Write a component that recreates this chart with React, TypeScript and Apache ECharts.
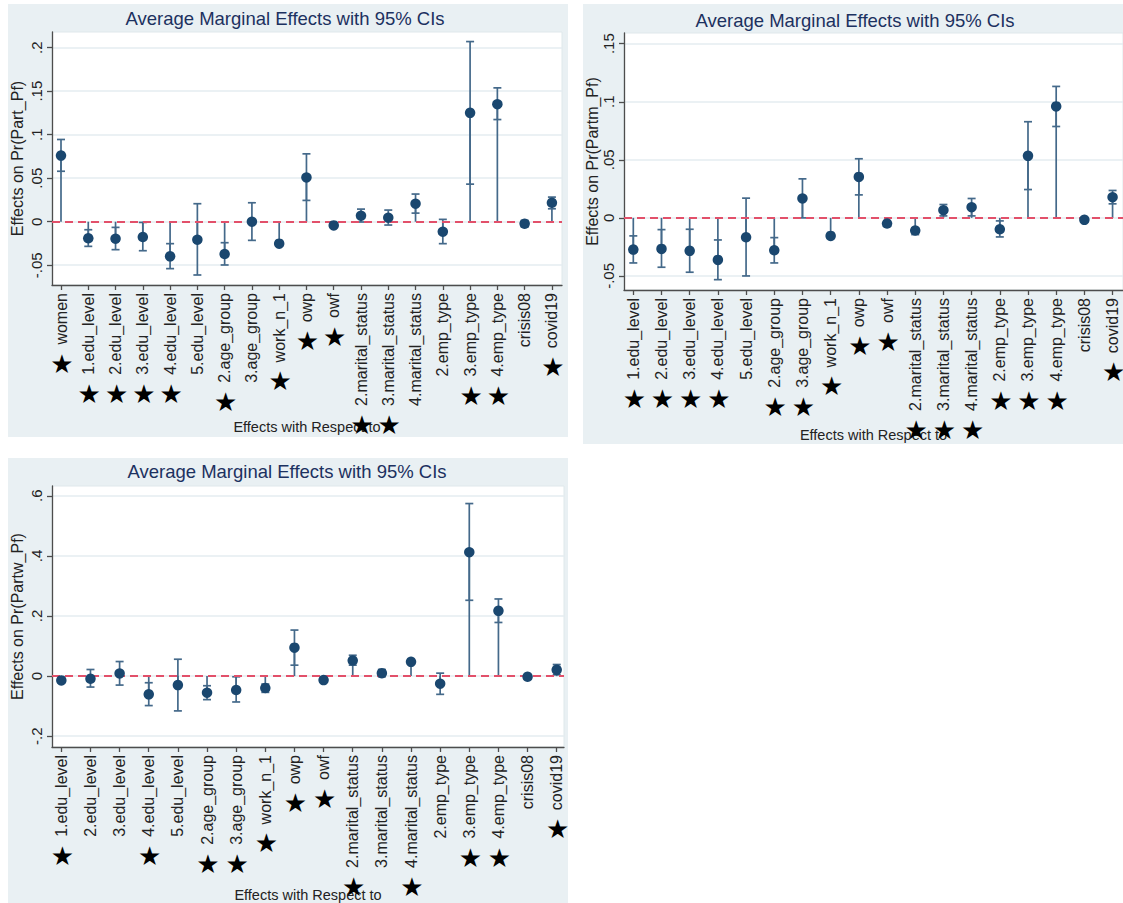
import React, { useEffect, useRef } from "react";
import * as echarts from "echarts";

// ---------- data ----------
const categories1 = ["women", "1.edu_level", "2.edu_level", "3.edu_level", "4.edu_level", "5.edu_level", "2.age_group", "3.age_group", "work_n_1", "owp", "owf", "2.marital_status", "3.marital_status", "4.marital_status", "2.emp_type", "3.emp_type", "4.emp_type", "crisis08", "covid19"];
const categories23 = ["1.edu_level", "2.edu_level", "3.edu_level", "4.edu_level", "5.edu_level", "2.age_group", "3.age_group", "work_n_1", "owp", "owf", "2.marital_status", "3.marital_status", "4.marital_status", "2.emp_type", "3.emp_type", "4.emp_type", "crisis08", "covid19"];

// Panel 1: Pr(Part_Pf)
const est1 = [0.076, -0.019, -0.0195, -0.0176, -0.0398, -0.0207, -0.0371, 0.0, -0.0252, 0.0509, -0.0042, 0.0069, 0.0046, 0.0207, -0.0115, 0.1251, 0.135, -0.0023, 0.0218];
const lo1 = [0.058, -0.0283, -0.0321, -0.0333, -0.0539, -0.0612, -0.0497, -0.0214, -0.0279, 0.0245, -0.0065, -0.0003, -0.0038, 0.0099, -0.0252, 0.0432, 0.1174, -0.0061, 0.0149];
const hi1 = [0.0945, -0.0092, -0.0065, -0.0008, -0.0252, 0.0207, -0.0241, 0.0218, -0.0226, 0.078, -0.002, 0.0145, 0.0134, 0.0318, 0.0027, 0.207, 0.1538, 0.0015, 0.0283];
const star1 = [1, 1, 1, 1, 1, 0, 1, 0, 1, 1, 1, 1, 1, 0, 0, 1, 1, 0, 1];
const yTicks1 = [-0.05, 0, 0.05, 0.1, 0.15, 0.2];

// Panel 2: Pr(Partm_Pf)
const est2 = [-0.0273, -0.0267, -0.0284, -0.0362, -0.0167, -0.0279, 0.0167, -0.0155, 0.0353, -0.0049, -0.0109, 0.0066, 0.0092, -0.0098, 0.0534, 0.096, -0.0017, 0.0178];
const lo2 = [-0.0388, -0.0425, -0.0468, -0.0532, -0.05, -0.0388, 0.0, -0.0178, 0.0198, -0.006, -0.0144, 0.0017, 0.0017, -0.0164, 0.0244, 0.0787, -0.0032, 0.0121];
const hi2 = [-0.0155, -0.0101, -0.0098, -0.019, 0.017, -0.017, 0.0336, -0.0138, 0.0509, -0.0037, -0.0086, 0.0115, 0.0167, -0.0026, 0.0828, 0.1132, -0.0003, 0.0236];
const star2 = [1, 1, 1, 1, 0, 1, 1, 1, 1, 1, 1, 1, 1, 1, 1, 1, 0, 1];
const yTicks2 = [-0.05, 0, 0.05, 0.1, 0.15];

// Panel 3: Pr(Partw_Pf)
const est3 = [-0.0143, -0.0088, 0.0088, -0.0606, -0.0298, -0.0551, -0.0463, -0.0397, 0.0948, -0.0132, 0.0518, 0.0099, 0.0474, -0.0253, 0.4121, 0.2171, -0.0022, 0.0209];
const lo3 = [-0.022, -0.0364, -0.0298, -0.098, -0.1157, -0.0782, -0.086, -0.054, 0.0364, -0.0198, 0.0364, -0.0022, 0.0397, -0.0606, 0.2523, 0.1785, -0.0088, 0.0044];
const hi3 = [-0.0077, 0.022, 0.0485, -0.022, 0.0562, -0.032, -0.0022, -0.0264, 0.1532, -0.0077, 0.0694, 0.022, 0.054, 0.0099, 0.5741, 0.2567, 0.0044, 0.0386];
const star3 = [1, 0, 0, 1, 0, 1, 1, 1, 1, 1, 1, 0, 1, 0, 1, 1, 0, 1];
const yTicks3 = [-0.2, 0, 0.2, 0.4, 0.6];

const titleText = "Average Marginal Effects with 95% CIs";
const xAxisTitle = "Effects with Respect to";
const yTitles = ["Effects on Pr(Part_Pf)", "Effects on Pr(Partm_Pf)", "Effects on Pr(Partw_Pf)"];

// ---------- style ----------
const FONT = '"Liberation Sans", Arial, Helvetica, sans-serif';
const PANEL_BG = "#e9f0f3";
const GRID_LINE = "#e4edf0";
const AXIS_COLOR = "#4d4d4d";
const TEXT_COLOR = "#222222";
const TITLE_COLOR = "#1c3160";
const MARKER = "#1a476f";
const CI_COLOR = "#44698a";
const ZERO_COLOR = "#e2506a";

const panels = [
  {
    cats: categories1, est: est1, lo: lo1, hi: hi1, star: star1, ticks: yTicks1, yName: yTitles[0],
    box: { x: 8, y: 4, w: 560, h: 433 }, title: { x: 285, y: 18 },
    grid: { left: 52, top: 32, width: 510, height: 253 },
    xMin: -0.33, xMax: 18.37, yMin: -0.0727, yMax: 0.218, xNameGap: 134, yNameGap: 27,
  },
  {
    cats: categories23, est: est2, lo: lo2, hi: hi2, star: star2, ticks: yTicks2, yName: yTitles[1],
    box: { x: 583, y: 4, w: 560, h: 440 }, title: { x: 855, y: 20 },
    grid: { left: 624, top: 33, width: 505, height: 257 },
    xMin: -0.33, xMax: 17.37, yMin: -0.0621, yMax: 0.1592, xNameGap: 137, yNameGap: 24,
  },
  {
    cats: categories23, est: est3, lo: lo3, hi: hi3, star: star3, ticks: yTicks3, yName: yTitles[2],
    box: { x: 8, y: 458, w: 560, h: 450 }, title: { x: 287, y: 471 },
    grid: { left: 52, top: 486, width: 512, height: 262 },
    xMin: -0.32, xMax: 17.25, yMin: -0.2358, yMax: 0.6325, xNameGap: 140, yNameGap: 27,
  },
];

const fmtY = (v: number) => {
  const s = String(Number(v.toFixed(4)));
  return s.replace(/^(-?)0\./, "$1.");
};

export default function App() {
  const ref = useRef<HTMLDivElement>(null);
  useEffect(() => {
    if (!ref.current) return;
    const chart = echarts.init(ref.current, undefined, { renderer: "svg" });

    const grids: any[] = [];
    const xAxes: any[] = [];
    const yAxes: any[] = [];
    const series: any[] = [];
    const baseGraphics: any[] = [];

    panels.forEach((p, k) => {
      baseGraphics.push({
        type: "rect", z: -10, silent: true,
        shape: { x: p.box.x, y: p.box.y, width: p.box.w, height: p.box.h },
        style: { fill: PANEL_BG },
      });
      baseGraphics.push({
        type: "text", z: 10, x: p.title.x, y: p.title.y,
        style: { text: titleText, fill: TITLE_COLOR, font: `18.5px ${FONT}`, textAlign: "center", textVerticalAlign: "middle" },
      });
      grids.push({
        ...p.grid, show: true, backgroundColor: "#ffffff", borderColor: "#dfe8eb", borderWidth: 1, containLabel: false,
      });
      const idx = p.cats.map((_, i) => i);
      xAxes.push({
        type: "value", gridIndex: k, min: p.xMin, max: p.xMax,
        axisLine: { show: true, onZero: false, lineStyle: { color: AXIS_COLOR, width: 1.3 } },
        axisTick: { show: true, length: 5, customValues: idx, lineStyle: { color: AXIS_COLOR, width: 1.3 } },
        axisLabel: {
          customValues: idx, rotate: 90, margin: 8, fontSize: 16, color: TEXT_COLOR, fontFamily: FONT,
          formatter: (v: number) => p.cats[Math.round(v)] ?? "",
        },
        splitLine: { show: false },
        name: xAxisTitle, nameLocation: "middle", nameGap: p.xNameGap,
        nameTextStyle: { fontSize: 14.5, color: TEXT_COLOR, fontFamily: FONT },
      });
      yAxes.push({
        type: "value", gridIndex: k, min: p.yMin, max: p.yMax,
        axisLine: { show: true, onZero: false, lineStyle: { color: AXIS_COLOR, width: 1.3 } },
        axisTick: { show: true, length: 5, customValues: p.ticks, lineStyle: { color: AXIS_COLOR, width: 1.3 } },
        axisLabel: {
          customValues: p.ticks, rotate: 90, margin: 8, fontSize: 15, color: TEXT_COLOR, fontFamily: FONT,
          formatter: (v: number) => fmtY(v),
        },
        splitLine: { show: true, lineStyle: { color: GRID_LINE, width: 1.5 } },
        name: p.yName, nameLocation: "middle", nameRotate: 90, nameGap: p.yNameGap,
        nameTextStyle: { fontSize: 16, color: TEXT_COLOR, fontFamily: FONT },
      });
      series.push({
        type: "custom", xAxisIndex: k, yAxisIndex: k, z: 2,
        data: p.cats.map((_, i) => [i, p.est[i], p.lo[i], p.hi[i]]),
        encode: { x: 0, y: [1, 2, 3] },
        renderItem: (_params: any, api: any) => {
          const i = api.value(0);
          const p0 = api.coord([i, 0]);
          const pe = api.coord([i, api.value(1)]);
          const pl = api.coord([i, api.value(2)]);
          const ph = api.coord([i, api.value(3)]);
          const x = p0[0];
          const cw = 4;
          const style = { stroke: CI_COLOR, lineWidth: 1.7 };
          return {
            type: "group",
            children: [
              { type: "line", shape: { x1: x, y1: p0[1], x2: x, y2: pe[1] }, style },
              { type: "line", shape: { x1: x, y1: pl[1], x2: x, y2: ph[1] }, style },
              { type: "line", shape: { x1: x - cw, y1: pl[1], x2: x + cw, y2: pl[1] }, style },
              { type: "line", shape: { x1: x - cw, y1: ph[1], x2: x + cw, y2: ph[1] }, style },
            ],
          };
        },
      });
      series.push({
        type: "scatter", xAxisIndex: k, yAxisIndex: k, z: 4,
        symbol: "circle", symbolSize: 10.5,
        itemStyle: { color: MARKER, opacity: 1 },
        data: p.cats.map((_, i) => [i, p.est[i]]),
        markLine: {
          silent: true, symbol: "none", label: { show: false }, z: 3,
          lineStyle: { color: ZERO_COLOR, type: [8, 5], width: 2 },
          data: [{ yAxis: 0 }],
        },
      });
    });

    chart.setOption({
      animation: false,
      backgroundColor: "#ffffff",
      textStyle: { fontFamily: FONT },
      grid: grids,
      xAxis: xAxes,
      yAxis: yAxes,
      series,
      graphic: { elements: baseGraphics },
    });

    // stars placed below each axis label, using the axes' own scales
    const ctx = document.createElement("canvas").getContext("2d");
    if (ctx) ctx.font = `16px ${FONT}`;
    const starGraphics: any[] = [];
    panels.forEach((p, k) => {
      const axisY = chart.convertToPixel({ yAxisIndex: k } as any, p.yMin) as number;
      p.cats.forEach((c, i) => {
        if (!p.star[i]) return;
        const x = chart.convertToPixel({ xAxisIndex: k } as any, i) as number;
        const w = ctx ? ctx.measureText(c).width : c.length * 8;
        starGraphics.push({
          type: "text", z: 20, x: x + 1, y: axisY + 8 + w + 19,
          style: { text: "★", fill: "#000000", font: `26px "DejaVu Sans", sans-serif`, textAlign: "center", textVerticalAlign: "middle" },
        });
      });
    });
    chart.setOption({ graphic: { elements: [...baseGraphics, ...starGraphics] } });

    return () => chart.dispose();
  }, []);

  return <div ref={ref} style={{ position: "absolute", left: 0, top: 0, width: 1123, height: 903 }} />;
}
